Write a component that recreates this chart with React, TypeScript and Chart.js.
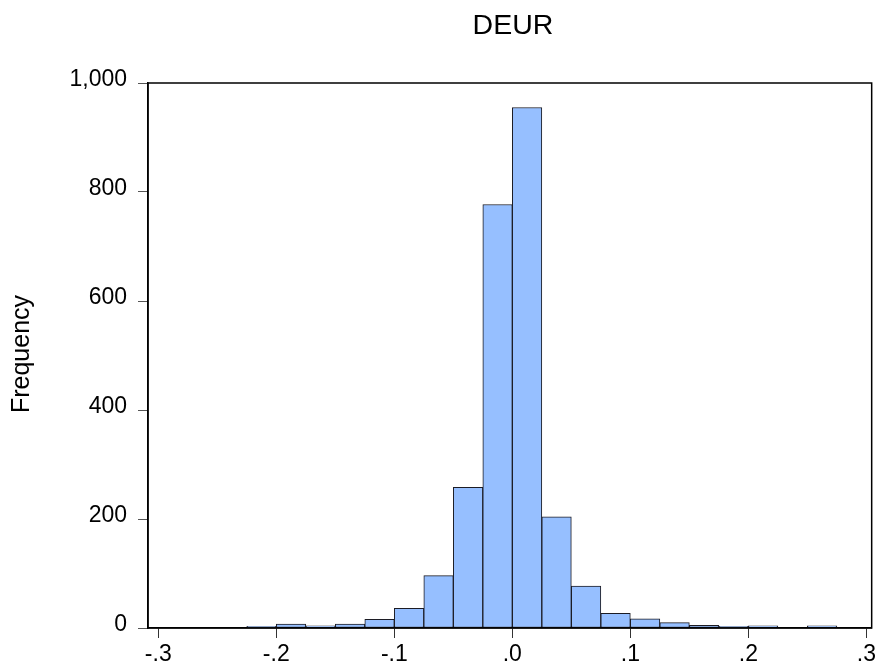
import React, { useEffect, useRef } from "react";
import { Chart, registerables } from "chart.js";

Chart.register(...registerables);

const TITLE = "DEUR";
const Y_LABEL = "Frequency";
const BIN_CENTERS = [
  -0.2875, -0.2625, -0.2375, -0.2125, -0.1875, -0.1625, -0.1375, -0.1125,
  -0.0875, -0.0625, -0.0375, -0.0125, 0.0125, 0.0375, 0.0625, 0.0875,
  0.1125, 0.1375, 0.1625, 0.1875, 0.2125, 0.2375, 0.2625, 0.2875,
];
const FREQUENCIES = [
  0, 0, 0, 3, 7, 4, 7, 16,
  36, 96, 258, 777, 955, 204, 77, 27,
  17, 10, 5, 3, 4, 0, 4, 0,
];
const X_TICKS = [-0.3, -0.2, -0.1, 0, 0.1, 0.2, 0.3];
const X_TICK_LABELS = ["-.3", "-.2", "-.1", ".0", ".1", ".2", ".3"];
const Y_TICKS = [0, 200, 400, 600, 800, 1000];
const Y_TICK_LABELS = ["0", "200", "400", "600", "800", "1,000"];

const FONT = "'Liberation Sans', Arial, Helvetica, sans-serif";

const framePlugin = {
  id: "frameAndTitles",
  afterDraw(chart: any) {
    const { ctx, chartArea } = chart;
    const { left, top, right, bottom } = chartArea;
    ctx.save();
    ctx.strokeStyle = "#000";
    ctx.lineWidth = 1.5;
    ctx.strokeRect(left, top, right - left, bottom - top);
    ctx.fillStyle = "#000";
    ctx.font = `28.5px ${FONT}`;
    ctx.textAlign = "center";
    ctx.textBaseline = "alphabetic";
    ctx.fillText(TITLE, 513, 34);
    ctx.translate(29, 354);
    ctx.rotate(-Math.PI / 2);
    ctx.font = `25px ${FONT}`;
    ctx.fillText(Y_LABEL, 0, 0);
    ctx.restore();
  },
};

export default function App() {
  const ref = useRef<HTMLCanvasElement>(null);
  useEffect(() => {
    if (!ref.current) return;
    const chart = new Chart(ref.current, {
      type: "bar",
      data: {
        datasets: [
          {
            data: BIN_CENTERS.map((x, i) => ({ x, y: FREQUENCIES[i] })),
            backgroundColor: "#96BFFF",
            borderColor: "#1c1c24",
            borderWidth: 1,
            borderSkipped: false,
            barPercentage: 1,
            categoryPercentage: 1,
          },
        ],
      },
      options: {
        responsive: false,
        animation: false,
        layout: { padding: { left: 0, right: 6, top: 83, bottom: 0 } },
        plugins: {
          legend: { display: false },
          tooltip: { enabled: false },
          title: { display: false },
        },
        scales: {
          x: {
            type: "linear",
            offset: false,
            min: -0.3087,
            max: 0.3045,
            afterBuildTicks: (scale: any) => {
              scale.ticks = X_TICKS.map((v) => ({ value: v }));
            },
            afterFit: (scale: any) => {
              scale.height = 41;
            },
            ticks: {
              autoSkip: false,
              maxRotation: 0,
              padding: 3,
              color: "#000",
              font: { family: FONT, size: 23 },
              callback: (_v: any, i: number) => X_TICK_LABELS[i],
            },
            grid: {
              offset: false,
              drawOnChartArea: false,
              drawTicks: true,
              tickLength: 10,
              color: "#333",
              lineWidth: 1,
            },
            border: { display: true, color: "#000", width: 1.5 },
          },
          y: {
            type: "linear",
            min: 0,
            max: 1000,
            afterBuildTicks: (scale: any) => {
              scale.ticks = Y_TICKS.map((v) => ({ value: v }));
            },
            afterFit: (scale: any) => {
              scale.width = 148;
            },
            ticks: {
              autoSkip: false,
              padding: 11,
              labelOffset: -3,
              color: "#000",
              font: { family: FONT, size: 23 },
              callback: (_v: any, i: number) => Y_TICK_LABELS[i],
            },
            grid: {
              drawOnChartArea: false,
              drawTicks: true,
              tickLength: 10,
              color: "#555",
              lineWidth: 1,
            },
            border: { display: true, color: "#000", width: 1.5 },
          },
        },
      },
      plugins: [framePlugin],
    });
    return () => chart.destroy();
  }, []);
  return (
    <div style={{ position: "absolute", left: 0, top: 0, width: 879, height: 669, background: "#fff" }}>
      <canvas ref={ref} width={879} height={669} style={{ display: "block" }} />
    </div>
  );
}
